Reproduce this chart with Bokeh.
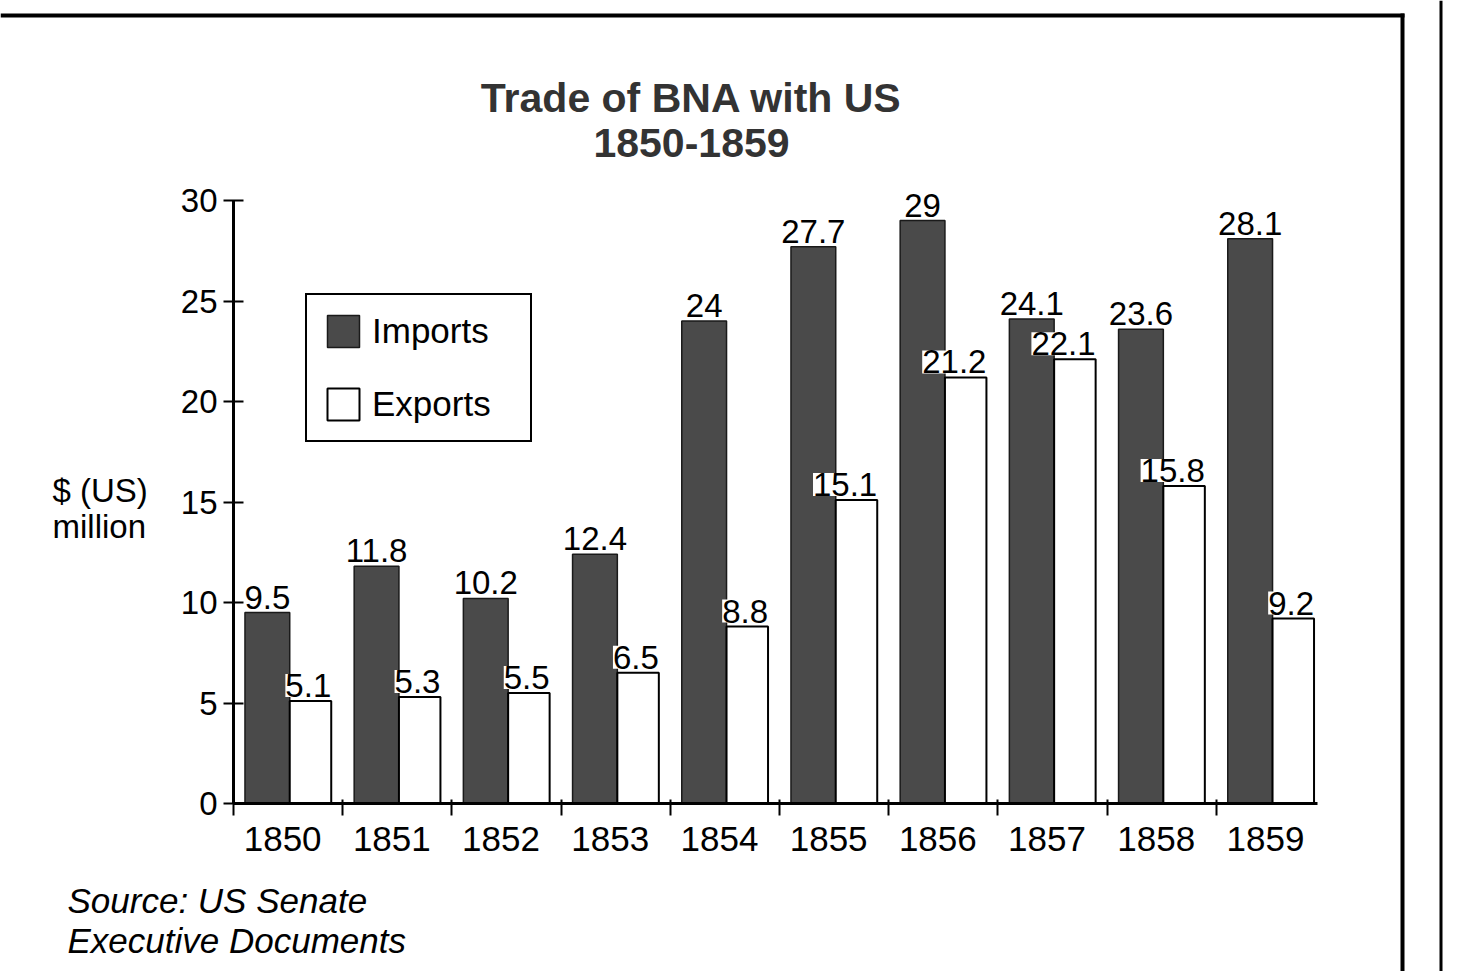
from bokeh.plotting import figure
from bokeh.models import (ColumnDataSource, Range1d, FixedTicker, LabelSet, Label,
                          Legend, LegendItem, BoxAnnotation, LinearAxis)
from bokeh.core.properties import value
from bokeh.embed import file_html
from bokeh.resources import INLINE

# ---- data ----
years = ["1850", "1851", "1852", "1853", "1854", "1855", "1856", "1857", "1858", "1859"]
imports = [9.5, 11.8, 10.2, 12.4, 24, 27.7, 29, 24.1, 23.6, 28.1]
exports = [5.1, 5.3, 5.5, 6.5, 8.8, 15.1, 21.2, 22.1, 15.8, 9.2]
y_ticks = [0, 5, 10, 15, 20, 25, 30]
title_lines = ["Trade of BNA with US", "1850-1859"]
y_label_lines = ["$ (US)", "million"]
source_lines = ["Source: US Senate", "Executive Documents"]

FONT = "Liberation Sans"
W, H = 1465, 971
idx = list(range(len(years)))

# page layout (pixels): plot area occupies x 233..1317, y 200..803
X0_PX, PX_PER_CAT = 233, 109.2
Y0_PX, PX_PER_UNIT = 803, 20.1
x_lo, x_hi = -0.45, len(years) - 0.52
x_start = x_lo - X0_PX / PX_PER_CAT
x_end = x_lo + (W - X0_PX) / PX_PER_CAT
y_start = -(H - Y0_PX) / PX_PER_UNIT
y_end = Y0_PX / PX_PER_UNIT

src = ColumnDataSource(dict(
    imp_x=[i - 0.14 for i in idx],
    exp_x=[i + 0.255 for i in idx],
    exp_r=[i + 0.445 for i in idx],
    imports=imports,
    exports=exports,
    imp_lbl=[f"{v:g}" for v in imports],
    exp_lbl=[f"{v:g}" for v in exports],
))

p = figure(width=W, height=H,
           x_range=Range1d(x_start, x_end), y_range=Range1d(y_start, y_end),
           output_backend="svg", toolbar_location=None,
           x_axis_location=None, y_axis_location=None,
           min_border_left=0, min_border_right=0,
           min_border_top=0, min_border_bottom=0)
p.outline_line_color = None
p.xgrid.grid_line_color = None
p.ygrid.grid_line_color = None
p.background_fill_color = "white"
p.border_fill_color = "white"

# x axis
xa = LinearAxis(fixed_location=0, bounds=(x_lo, x_hi))
xa.ticker = FixedTicker(ticks=idx, minor_ticks=[i - 0.45 for i in idx])
xa.major_label_overrides = {i: y for i, y in zip(idx, years)}
xa.major_tick_line_color = None
xa.major_tick_out = 0
xa.major_tick_in = 0
xa.minor_tick_line_color = "black"
xa.minor_tick_line_width = 2
xa.minor_tick_out = 12
xa.minor_tick_in = 4
xa.axis_line_width = 3
xa.axis_line_color = "black"
xa.major_label_text_font = FONT
xa.major_label_text_font_size = "35px"
xa.major_label_text_color = "black"
xa.major_label_standoff = 11
p.add_layout(xa, "below")

# y axis
ya = LinearAxis(fixed_location=x_lo, bounds=(0, 30))
ya.ticker = FixedTicker(ticks=y_ticks)
ya.major_tick_in = 10
ya.major_tick_out = 10
ya.major_tick_line_width = 2
ya.major_tick_line_color = "black"
ya.minor_tick_line_color = None
ya.axis_line_width = 3
ya.axis_line_color = "black"
ya.major_label_text_font = FONT
ya.major_label_text_font_size = "33px"
ya.major_label_text_color = "black"
ya.major_label_standoff = 6
p.add_layout(ya, "left")

# bars
imp = p.vbar(x="imp_x", top="imports", bottom=0, width=0.41, source=src,
             fill_color="#4a4a4a", line_color="#1a1a1a", line_width=1.5)
exp = p.vbar(x="exp_x", top="exports", bottom=0, width=0.38, source=src,
             fill_color="white", line_color="black", line_width=2)

# value labels
for xcol, ycol, tcol, align in [("imp_x", "imports", "imp_lbl", "center"),
                                ("exp_r", "exports", "exp_lbl", "right")]:
    ls = LabelSet(x=xcol, y=ycol, text=tcol, source=src, y_offset=4,
                  text_align=align, text_baseline="alphabetic",
                  text_font=value(FONT), text_font_size=value("33px"),
                  text_color="black", background_fill_color="white")
    p.add_layout(ls)

# legend
legend = Legend(items=[LegendItem(label="Imports", renderers=[imp]),
                       LegendItem(label="Exports", renderers=[exp])],
                location=(305, H - 442), orientation="vertical",
                glyph_width=40, glyph_height=40, label_standoff=9,
                label_width=142, spacing=33, padding=16, margin=0,
                label_text_font=FONT, label_text_font_size="35px",
                label_text_color="black",
                border_line_color="black", border_line_width=2.5, border_line_alpha=1,
                background_fill_color="white", background_fill_alpha=1)
p.add_layout(legend)

# title
for txt, py in zip(title_lines, [97, 142]):
    p.add_layout(Label(x=691, y=H - py, x_units="screen", y_units="screen", text=txt,
                       text_align="center", text_baseline="alphabetic",
                       text_font=FONT, text_font_style="bold", text_font_size="41px",
                       text_color="#333333"))

# y axis label
for txt, py in zip(y_label_lines, [490, 526]):
    p.add_layout(Label(x=52, y=H - py, x_units="screen", y_units="screen", text=txt,
                       text_align="left", text_baseline="alphabetic",
                       text_font=FONT, text_font_size="33px", text_color="black"))

# source note
for txt, py in zip(source_lines, [900, 940]):
    p.add_layout(Label(x=67, y=H - py, x_units="screen", y_units="screen", text=txt,
                       text_align="left", text_baseline="alphabetic",
                       text_font=FONT, text_font_style="italic", text_font_size="35px",
                       text_color="black"))

# page border lines of the scanned sheet
def page_box(l, r, t, b):
    p.add_layout(BoxAnnotation(left=l, right=r, top=H - t, bottom=H - b,
                               left_units="screen", right_units="screen",
                               top_units="screen", bottom_units="screen",
                               fill_color="black", fill_alpha=1, line_color=None))

page_box(0, 1404, 13, 17)
page_box(1400, 1404, 13, H)
page_box(1439, 1442, 0, H)

open("out.html", "w").write(file_html(p, INLINE))
